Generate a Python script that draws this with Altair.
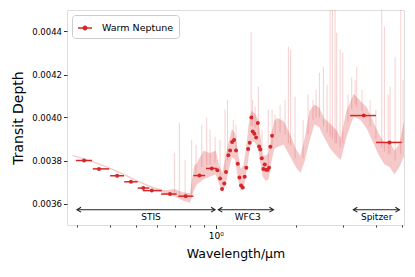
import altair as alt
import pandas as pd

RED = "#d62728"

# ---- observed transit depths ----
stis_wl = [0.320, 0.364, 0.426, 0.480, 0.534, 0.575, 0.673, 0.771, 0.868, 0.966]
stis_lo = [0.298, 0.345, 0.401, 0.453, 0.509, 0.532, 0.623, 0.723, 0.824, 0.919]
stis_hi = [0.343, 0.398, 0.452, 0.509, 0.563, 0.627, 0.713, 0.824, 0.912, 1.009]
stis_depth = [0.003800, 0.003761, 0.003729, 0.003701, 0.003672, 0.003660,
              0.003644, 0.003634, 0.003730, 0.003763]

wfc3_wl = [1.014, 1.038, 1.056, 1.077, 1.093, 1.115, 1.132, 1.152, 1.172, 1.192,
           1.210, 1.227, 1.245, 1.263, 1.285, 1.303, 1.323, 1.342, 1.361, 1.377,
           1.397, 1.418, 1.439, 1.455, 1.471, 1.489, 1.510, 1.528, 1.546, 1.568,
           1.586, 1.604, 1.628]
wfc3_depth = [0.003755, 0.003716, 0.003667, 0.003693, 0.003746, 0.003825, 0.003847,
              0.003886, 0.003895, 0.003847, 0.003785, 0.003721, 0.003684, 0.003674,
              0.003724, 0.003766, 0.003854, 0.003882, 0.004000, 0.003935, 0.003924,
              0.003907, 0.003975, 0.003865, 0.003851, 0.003811, 0.003761, 0.003781,
              0.003757, 0.003757, 0.003766, 0.003864, 0.003915]

spitzer_wl = [3.6, 4.5]
spitzer_lo = [3.2, 4.0]
spitzer_hi = [4.0, 5.0]
spitzer_depth = [0.004009, 0.003884]

# ---- model spectrum: dense core band (x1e-3) ----
model_wl = [0.29, 0.30, 0.35, 0.40, 0.45, 0.50, 0.55, 0.60, 0.65, 0.70, 0.75, 0.80,
            0.83, 0.85, 0.90, 0.95, 1.00, 1.03, 1.06, 1.09, 1.12, 1.15, 1.18, 1.21,
            1.24, 1.27, 1.30, 1.33, 1.36, 1.40, 1.44, 1.47, 1.50, 1.54, 1.58, 1.62,
            1.66, 1.70, 1.80, 1.90, 2.00, 2.08, 2.16, 2.25, 2.35, 2.45, 2.55, 2.70,
            2.85, 2.95, 3.10, 3.30, 3.50, 3.70, 3.90, 4.10, 4.30, 4.50, 4.70, 4.90, 5.10]
model_low = [3.820, 3.815, 3.788, 3.761, 3.733, 3.705, 3.682, 3.662, 3.642, 3.632, 3.614, 3.604,
             3.664, 3.690, 3.712, 3.726, 3.735, 3.690, 3.655, 3.690, 3.760, 3.815, 3.805, 3.724,
             3.658, 3.668, 3.736, 3.820, 3.890, 3.885, 3.862, 3.792, 3.727, 3.705, 3.713, 3.797,
             3.853, 3.862, 3.875, 3.820, 3.770, 3.742, 3.797, 3.890, 3.968, 3.955, 3.909, 3.853,
             3.820, 3.802, 3.909, 4.005, 3.988, 3.946, 3.885, 3.825, 3.783, 3.770, 3.736, 3.770, 3.820]
model_high = [3.826, 3.821, 3.794, 3.767, 3.739, 3.712, 3.690, 3.672, 3.662, 3.668, 3.652, 3.648,
              3.775, 3.790, 3.845, 3.835, 3.845, 3.776, 3.743, 3.822, 3.890, 3.946, 3.928, 3.845,
              3.762, 3.776, 3.855, 3.970, 4.030, 4.020, 3.994, 3.924, 3.822, 3.822, 3.835, 3.928,
              3.984, 3.998, 3.984, 3.924, 3.855, 3.822, 3.905, 4.030, 4.060, 4.046, 3.998, 3.970,
              3.938, 3.905, 4.030, 4.110, 4.077, 4.046, 3.984, 3.924, 3.882, 3.890, 3.845, 3.878, 3.984]

# ---- model spectrum: narrow spikes (x1e-3) ----
spike_wl = [0.699, 0.730, 0.767, 0.812, 0.843, 0.886, 0.925, 0.952, 0.994, 1.038, 1.084,
            1.107, 1.165, 1.192, 1.358, 1.375, 1.405, 1.446, 1.493, 1.576, 1.628, 1.671,
            1.745, 1.822, 1.875, 1.911, 1.987, 2.129, 2.223, 2.320, 2.383, 2.453, 2.539,
            2.621, 2.690, 2.744, 2.809, 2.848, 2.933, 3.002, 3.140, 3.245, 3.340, 3.388,
            3.547, 3.803, 4.000, 4.208, 4.304, 4.450, 4.521, 4.722, 4.961, 5.060]
spike_base = [3.65, 3.64, 3.63, 3.63, 3.74, 3.77, 3.78, 3.78, 3.79, 3.72, 3.74,
              3.80, 3.88, 3.85, 3.96, 3.96, 3.95, 3.92, 3.80, 3.77, 3.86, 3.92,
              3.93, 3.92, 3.88, 3.87, 3.81, 3.81, 3.92, 3.99, 4.00, 4.00, 3.96,
              3.93, 3.91, 3.90, 3.88, 3.88, 3.86, 3.88, 3.98, 4.04, 4.06, 4.05,
              4.03, 3.96, 3.90, 3.86, 3.84, 3.83, 3.83, 3.80, 3.83, 3.88]
spike_top = [3.836, 3.975, 3.803, 3.896, 3.873, 3.966, 3.999, 3.943, 3.910, 3.896, 4.036,
             4.082, 3.989, 3.966, 4.399, 4.082, 4.050, 4.143, 3.943, 4.036, 4.036, 4.013,
             4.059, 4.082, 4.329, 4.315, 4.096, 3.989, 4.106, 4.082, 4.129, 4.208, 4.236,
             4.152, 4.524, 4.524, 4.524, 4.394, 4.315, 4.301, 4.106, 4.189, 4.175, 4.236,
             4.129, 4.082, 4.036, 4.524, 4.422, 4.106, 4.143, 4.282, 4.524, 4.175]

# ---- instrument annotations ----
inst_names = ["STIS", "WFC3", "Spitzer"]
inst_start = [0.301, 1.023, 3.29]
inst_end = [0.994, 1.647, 4.90]
inst_label_wl = [0.571, 1.319, 4.025]
arrow_depth = 0.003571
label_depth = 0.003537

# ---- axes ----
x_ticks = [0.3, 0.4, 0.5, 0.6, 0.7, 0.8, 0.9, 1, 2, 3, 4, 5]
y_ticks = [0.0036, 0.0038, 0.0040, 0.0042, 0.0044]
x_domain = [0.276, 5.1]
y_domain = [0.0035, 0.0045]

FONT = "DejaVu Sans"

# ---- tables ----
obs = pd.DataFrame({
    "wl": stis_wl + wfc3_wl + spitzer_wl,
    "lo": stis_lo + [w - 0.009 for w in wfc3_wl] + spitzer_lo,
    "hi": stis_hi + [w + 0.009 for w in wfc3_wl] + spitzer_hi,
    "d": stis_depth + wfc3_depth + spitzer_depth,
})
obs["dlo"] = obs["d"] - 0.000004
obs["dhi"] = obs["d"] + 0.000004
obs["series"] = "Warm Neptune"

band = pd.DataFrame({"wl": model_wl,
                     "d": [v * 1e-3 for v in model_low],
                     "d2": [v * 1e-3 for v in model_high]})
spikes = pd.DataFrame({"wl": spike_wl,
                       "d": [v * 1e-3 for v in spike_base],
                       "d2": [v * 1e-3 for v in spike_top]})
inst = pd.DataFrame({"name": inst_names, "a": inst_start, "b": inst_end,
                     "wl": inst_label_wl})
inst["d"] = arrow_depth
inst["dl"] = label_depth

xs = alt.Scale(type="log", domain=x_domain, nice=False)
ys = alt.Scale(domain=y_domain, nice=False, zero=False)

xaxis = alt.Axis(
    values=x_ticks,
    labelExpr="datum.value == 1 ? '10⁰' : ''",
    tickSize={"condition": {"test": "datum.value == 1", "value": 3.5}, "value": 2},
    title="Wavelength/μm", titleFontSize=12.5, titleFontWeight="normal",
    titleFont=FONT, titleColor="#000", titlePadding=7,
    labelFont=FONT, labelFontSize=9, labelColor="#000", labelPadding=3,
    tickColor="#000", tickWidth=0.8, domain=False, grid=False,
    labelFlush=False, labelOverlap=False,
)
yaxis = alt.Axis(
    values=y_ticks, format=".4f",
    title="Transit Depth", titleFontSize=14, titleFontWeight="normal",
    titleFont=FONT, titleColor="#000", titlePadding=6,
    labelFont=FONT, labelFontSize=8.5, labelColor="#000", labelPadding=2,
    tickSize=3.5, tickColor="#000", tickWidth=0.8, domain=False, grid=False,
)


def X(f):
    return alt.X(f"{f}:Q", scale=xs, axis=xaxis)


def Y(f):
    return alt.Y(f"{f}:Q", scale=ys, axis=yaxis)


band_layer = alt.Chart(band).mark_area(color=RED, opacity=0.25, clip=True).encode(
    x=X("wl"), y=Y("d"), y2="d2")

spike_layer = alt.Chart(spikes).mark_rule(color=RED, opacity=0.28, strokeWidth=0.8,
                                          clip=True).encode(
    x=X("wl"), y=Y("d"), y2="d2")

xerr = alt.Chart(obs).mark_rule(color=RED, strokeWidth=1.5).encode(
    x=X("lo"), x2="hi", y=Y("d"))
yerr = alt.Chart(obs).mark_rule(color=RED, strokeWidth=1.5).encode(
    x=X("wl"), y=Y("dlo"), y2="dhi")

points = alt.Chart(obs).mark_circle(size=16, opacity=1).encode(
    x=X("wl"), y=Y("d"),
    color=alt.Color("series:N", scale=alt.Scale(range=[RED]),
                    legend=alt.Legend(
                        title=None, orient="top-left", offset=5, padding=5,
                        strokeColor="#cccccc", fillColor="white", cornerRadius=3,
                        symbolType="M-1,0L1,0M0.25,0A0.25,0.25,0,1,1,-0.25,0A0.25,0.25,0,1,1,0.25,0Z",
                        symbolSize=196, symbolStrokeWidth=1.4,
                        symbolStrokeColor=RED, symbolFillColor=RED,
                        labelFont=FONT, labelFontSize=9.5, labelColor="#000",
                        labelOffset=9)))

arrow_line = alt.Chart(inst).mark_rule(color="#222", strokeWidth=1).encode(
    x=X("a"), x2="b", y=Y("d"))
head_left = alt.Chart(inst).mark_point(shape="M1,-0.6L0,0L1,0.6", size=64, filled=False,
                                       color="#222", strokeWidth=1.1, opacity=1).encode(
    x=X("a"), y=Y("d"))
head_right = alt.Chart(inst).mark_point(shape="M-1,-0.6L0,0L-1,0.6", size=64, filled=False,
                                        color="#222", strokeWidth=1.1, opacity=1).encode(
    x=X("b"), y=Y("d"))
labels = alt.Chart(inst).mark_text(font=FONT, fontSize=9, color="#000",
                                   baseline="middle", align="center").encode(
    x=X("wl"), y=Y("dl"), text="name:N")

chart = alt.layer(
    band_layer, spike_layer, xerr, yerr, points,
    arrow_line, head_left, head_right, labels,
).properties(
    width=337, height=215,
    autosize="none",
    padding={"left": 59, "top": 2, "right": 3, "bottom": 44},
).configure_view(
    stroke="#000", strokeWidth=0.8
).configure(font=FONT, background="white")

chart.save("out.html", embed_options={"renderer": "svg", "actions": False})
